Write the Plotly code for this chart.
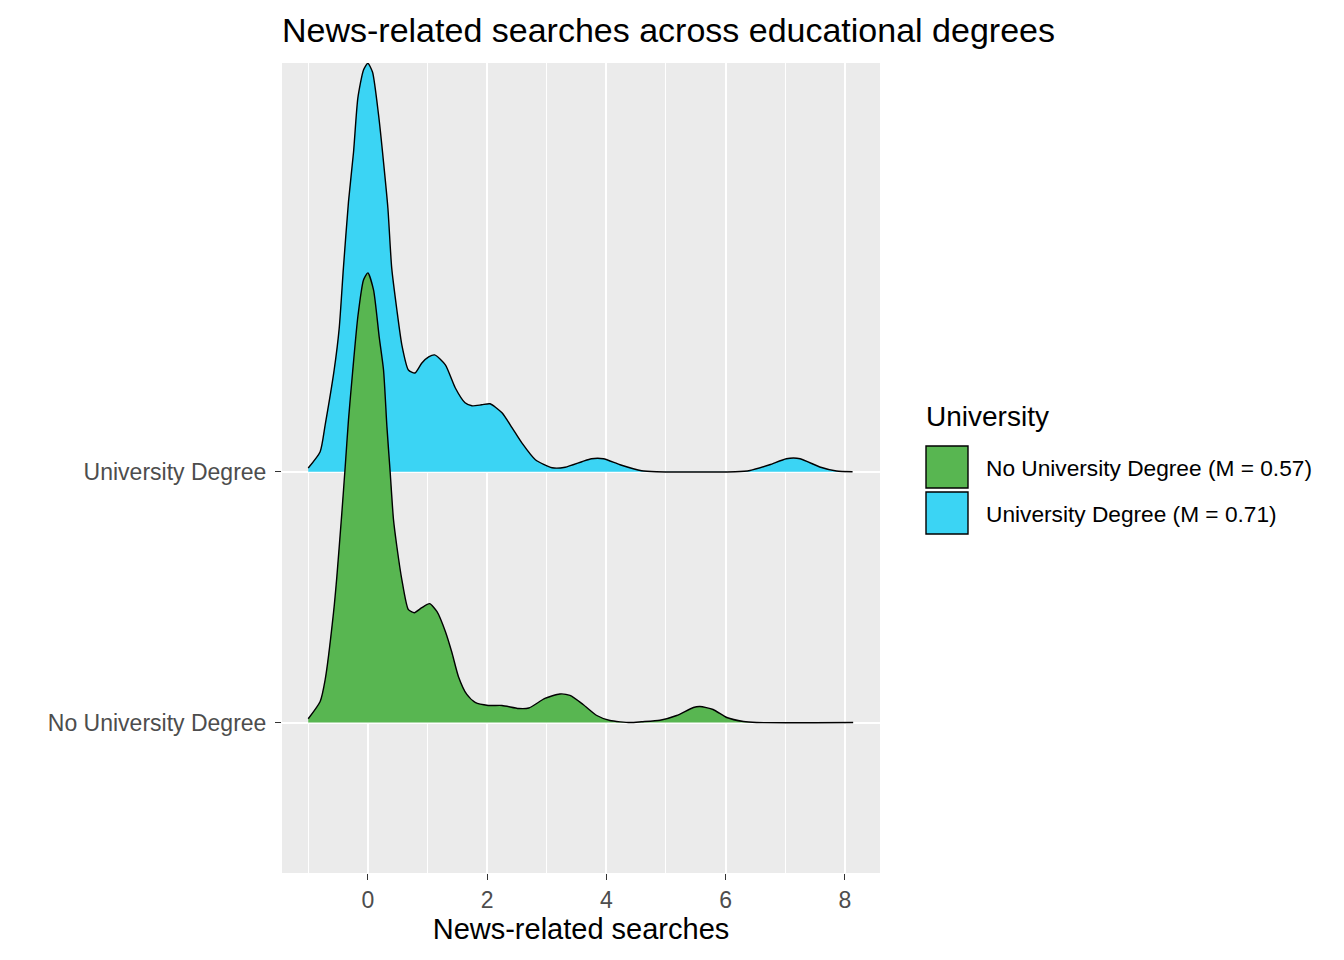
import plotly.graph_objects as go

# ridge data: x values and ridge heights (in row units)
uni_x = [-1.0, -0.80, -0.716, -0.565, -0.48, -0.41, -0.325, -0.24, -0.168, -0.073, 0.0,
         0.078, 0.18, 0.263, 0.336, 0.40, 0.487, 0.57, 0.68, 0.79, 0.906, 1.02, 1.12,
         1.30, 1.465, 1.63, 1.745, 1.91, 2.05, 2.25, 2.42, 2.58, 2.81, 3.09, 3.31, 3.59,
         3.75, 3.95, 4.23, 4.59, 4.84, 6.16, 6.41, 6.74, 7.02, 7.25, 7.58, 7.86, 8.13]
uni_h = [0.015, 0.080, 0.187, 0.406, 0.574, 0.813, 1.076, 1.275, 1.490, 1.602, 1.629,
         1.594, 1.422, 1.235, 1.052, 0.813, 0.645, 0.506, 0.406, 0.394, 0.434, 0.458, 0.466,
         0.426, 0.335, 0.275, 0.263, 0.267, 0.271, 0.235, 0.175, 0.116, 0.048, 0.016, 0.018, 0.040,
         0.052, 0.052, 0.028, 0.004, 0.0, 0.0, 0.005, 0.028, 0.052, 0.052, 0.019, 0.003, 0.0]

nouni_x = [-1.0, -0.80, -0.716, -0.576, -0.52, -0.436, -0.38, -0.325, -0.257, -0.168, -0.073,
           0.0, 0.095, 0.19, 0.263, 0.32, 0.375, 0.43, 0.487, 0.57, 0.68, 0.78, 0.906, 1.035,
           1.16, 1.30, 1.41, 1.52, 1.66, 1.80, 2.02, 2.25, 2.53, 2.70, 2.97, 3.22, 3.39, 3.61,
           3.84, 4.06, 4.40, 4.59, 4.90, 5.18, 5.46, 5.57, 5.79, 6.02, 6.30, 6.52, 8.14]
nouni_h = [0.015, 0.084, 0.171, 0.438, 0.582, 0.837, 1.020, 1.207, 1.394, 1.618, 1.765,
           1.793, 1.725, 1.538, 1.406, 1.179, 0.996, 0.809, 0.701, 0.570, 0.450, 0.438, 0.458, 0.474,
           0.442, 0.363, 0.279, 0.183, 0.112, 0.080, 0.068, 0.068, 0.056, 0.058, 0.096, 0.114, 0.108, 0.072,
           0.028, 0.008, 0.0, 0.003, 0.009, 0.028, 0.060, 0.064, 0.052, 0.020, 0.004, 0.0, 0.0]

groups = ["No University Degree", "University Degree"]
means = [0.57, 0.71]
colors = ["#58B651", "#3BD4F4"]

FONT = "Liberation Sans, Arial, sans-serif"
PAGE = 8  # default body margin of the html page

fig = go.Figure()

# University drawn first (upper row), No University on top of it
for xs, hs, row, col in [(uni_x, uni_h, 2, colors[1]), (nouni_x, nouni_h, 1, colors[0])]:
    fig.add_trace(go.Scatter(x=xs, y=[row] * len(xs), mode="lines",
                             line=dict(width=0, color=col), showlegend=False, hoverinfo="skip"))
    fig.add_trace(go.Scatter(x=xs, y=[row + h for h in hs], mode="lines",
                             line=dict(color="black", width=1.4, shape="spline", smoothing=0.6),
                             fill="tonexty", fillcolor=col, showlegend=False))

fig.update_layout(
    width=1344, height=960,
    margin=dict(l=282 - PAGE, r=464 + PAGE, t=63 - PAGE, b=87 + PAGE),
    paper_bgcolor="white", plot_bgcolor="#EBEBEB",
    font=dict(family=FONT),
    title=dict(text="News-related searches across educational degrees",
               x=(282 - PAGE) / 1344, xref="container", xanchor="left",
               y=1 - (30 - PAGE) / 960, yref="container", yanchor="middle",
               font=dict(size=34, color="black")),
    showlegend=False,
)

fig.update_xaxes(
    range=[-1.44, 8.59], tickmode="linear", tick0=0, dtick=2,
    showgrid=True, gridcolor="white", gridwidth=1.8, zeroline=False,
    minor=dict(dtick=1, tick0=0, showgrid=True, gridcolor="white", gridwidth=0.9),
    ticks="outside", ticklen=6, tickcolor="#333333", tickwidth=1.4,
    tickfont=dict(size=23, color="#4D4D4D"),
    title=dict(text="News-related searches", font=dict(size=29, color="black"), standoff=4),
)
fig.update_yaxes(
    range=[0.4, 3.63], tickvals=[1, 2], ticktext=groups,
    showgrid=True, gridcolor="white", gridwidth=1.8, zeroline=False,
    ticks="outside", ticklen=6, tickcolor="#333333", tickwidth=1.4,
    tickfont=dict(size=23, color="#4D4D4D"), ticklabelstandoff=4,
)

# hand-made legend, like ggplot's boxed keys
fig.add_annotation(text="University", xref="paper", yref="paper",
                   x=(924 - 282) / 598, y=(873 - 417) / 810, xanchor="left", yanchor="middle",
                   showarrow=False, font=dict(size=28, color="black"))
for i, (g, m, c) in enumerate(zip(groups, means, colors)):
    top = 446 + i * 46
    fig.add_shape(type="rect", xref="paper", yref="paper",
                  x0=(926 - 282) / 598, x1=(968 - 282) / 598,
                  y0=(873 - top - 42) / 810, y1=(873 - top) / 810,
                  fillcolor=c, line=dict(color="black", width=1.4))
    fig.add_annotation(text=f"{g} (M = {m:.2f})", xref="paper", yref="paper",
                       x=(984 - 282) / 598, y=(873 - top - 22) / 810,
                       xanchor="left", yanchor="middle", showarrow=False,
                       font=dict(size=22.7, color="black"))

fig.write_html("out.html")
